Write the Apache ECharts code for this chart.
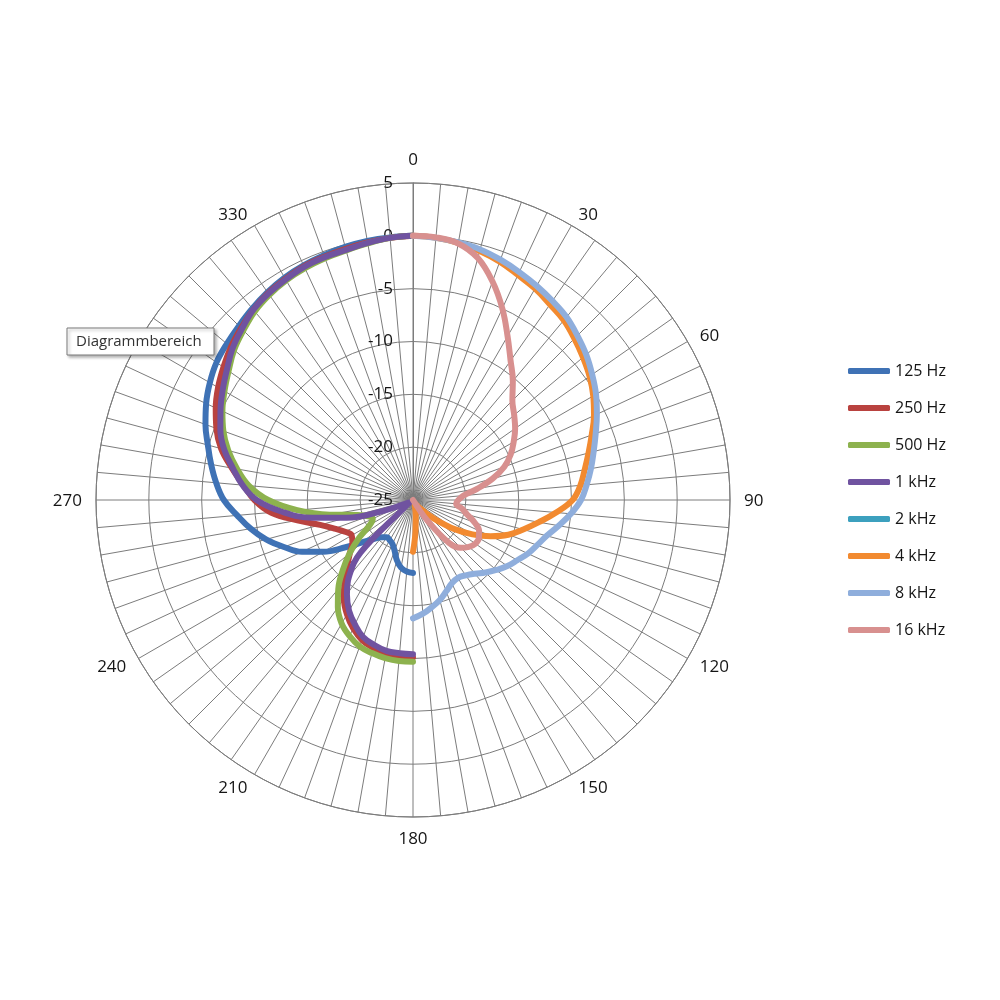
<!DOCTYPE html>
<html><head><meta charset="utf-8">
<script src="https://cdn.jsdelivr.net/npm/echarts@6/dist/echarts.min.js"></script>
<style>html,body{margin:0;padding:0;background:#fff}#c{width:1000px;height:1000px}</style>
</head><body><div id="c"></div>
<script>
// Angles (degrees, clockwise from top)
const anglesRight = [0,5,10,15,20,25,30,35,40,45,50,55,60,65,70,75,80,85,90,95,100,105,110,115,120,125,130,135,140,145,150,155,160,165,170,175,180];
const anglesLeft = [180,185,190,195,200,205,210,215,220,225,230,235,240,245,250,255,260,265,270,275,280,285,290,295,300,305,310,315,320,325,330,335,340,345,350,355,360];

const seriesNames = ['125 Hz','250 Hz','500 Hz','1 kHz','2 kHz','4 kHz','8 kHz','16 kHz'];
const seriesColors = ['#3F72B5','#B9423F','#8DB24E','#7053A0','#3CA0BE','#F28A30','#8FAEDC','#D8908F'];

// Left half (180..360), dB
const v125 = [-18.1,-18.2,-18.5,-19.1,-19.9,-20.4,-20.6,-20.7,-20.4,-19.8,-18.8,-17.2,-15.2,-13.4,-12.0,-10.6,-9.4,-8.3,-7.1,-6.3,-5.6,-4.9,-4.1,-3.4,-2.8,-2.3,-2.0,-1.7,-1.35,-1.0,-0.7,-0.5,-0.35,-0.2,-0.1,-0.05,0];
const v250 = [-10.1,-10.15,-10.2,-10.5,-10.9,-11.6,-12.5,-13.6,-14.9,-16.2,-17.2,-18.0,-18.3,-17.9,-17.1,-15.9,-13.9,-11.5,-10.0,-8.9,-7.6,-6.2,-5.2,-4.4,-3.7,-3.1,-2.5,-2.0,-1.5,-1.1,-0.85,-0.6,-0.5,-0.4,-0.25,-0.1,0];
const v500 = [-9.7,-9.7,-9.8,-10.0,-10.25,-10.8,-11.5,-12.6,-14.0,-15.6,-17.2,-18.8,-20.3,-20.8,-20.5,-19.5,-17.0,-14.0,-11.3,-9.4,-8.1,-6.9,-5.9,-5.1,-4.4,-3.7,-2.9,-2.3,-1.7,-1.3,-1.0,-0.8,-0.65,-0.55,-0.35,-0.1,0];
const v1k = [-10.4,-10.45,-10.5,-10.8,-11.2,-12.0,-12.9,-14.1,-15.6,-18.0,-24.3,-24.6,-24.5,-24.0,-22.0,-18.5,-15.3,-12.5,-10.2,-8.8,-7.7,-6.5,-5.6,-4.9,-4.2,-3.5,-2.7,-2.1,-1.5,-1.15,-0.9,-0.65,-0.55,-0.5,-0.3,-0.1,0];
const v2k = [];
// Right half (0..180), dB
const v4k = [0,-0.1,-0.3,-0.6,-1.0,-1.5,-1.9,-2.4,-2.8,-3.4,-4.0,-4.6,-5.3,-6.1,-7.0,-7.8,-8.5,-9.1,-9.9,-11.4,-12.9,-14.2,-15.4,-16.9,-18.5,-20.2,-21.9,-23.2,-24.0,-24.4,-24.6,-24.6,-24.5,-24.2,-23.5,-22.2,-20.1];
const v8k = [0,-0.1,-0.25,-0.45,-0.8,-1.2,-1.6,-2.0,-2.4,-3.0,-3.6,-4.3,-5.0,-5.8,-6.6,-7.3,-7.9,-8.5,-9.1,-10.0,-11.0,-11.9,-12.5,-13.0,-13.6,-14.1,-14.7,-15.3,-15.9,-16.3,-16.5,-16.3,-15.8,-15.2,-14.7,-14.2,-13.8];
const v16k = [0,-0.05,-0.35,-1.3,-3.0,-5.0,-7.1,-8.9,-10.3,-11.7,-12.5,-13.2,-14.0,-14.8,-15.8,-17.2,-18.8,-20.2,-20.7,-20.9,-20.3,-19.7,-18.8,-18.1,-17.8,-17.8,-18.1,-18.6,-19.7,-22.6,-25,-25,-25,-25,-25,-25,-25];

const angleLabelTicks = [0,30,60,90,120,150,180,210,240,270,300,330];
const radiusMin = -25, radiusMax = 5, radiusStep = 5;
const angleLabelRadius = 6.33; // radius value where the angle labels are anchored (just outside the outer ring)

const seriesValues = [v125, v250, v500, v1k, v2k, v4k, v8k, v16k];
const seriesAngles = [anglesLeft, anglesLeft, anglesLeft, anglesLeft, anglesLeft, anglesRight, anglesRight, anglesRight];

const FONT = '"Open Sans", "Segoe UI", sans-serif';
const GRID = '#7c7c7c';
const TEXT = '#151515';

const chart = echarts.init(document.getElementById('c'), null, {renderer: 'canvas'});
chart.setOption({
  backgroundColor: '#fff',
  animation: false,
  color: seriesColors,
  polar: { center: [413, 500], radius: 317 },
  angleAxis: {
    type: 'value', min: 0, max: 360, interval: 5, startAngle: 90, clockwise: true,
    axisLine: { lineStyle: { color: GRID, width: 1 } },
    axisTick: { show: false },
    splitLine: { show: true, lineStyle: { color: GRID, width: 1 } },
    axisLabel: { show: false }
  },
  radiusAxis: {
    type: 'value', min: radiusMin, max: radiusMax, interval: radiusStep,
    axisLine: { show: true, lineStyle: { color: GRID, width: 1 } },
    axisTick: { show: false },
    splitLine: { show: true, lineStyle: { color: GRID, width: 1 } },
    axisLabel: { margin: 20, fontSize: 17, color: TEXT, fontFamily: FONT }
  },
  legend: {
    orient: 'vertical', left: 843, top: 358, itemGap: 21,
    itemWidth: 42, itemHeight: 6, icon: 'roundRect',
    textStyle: { fontSize: 16, color: TEXT, fontFamily: FONT },
    data: seriesNames
  },
  series: seriesNames.map((name, i) => ({
    name, type: 'line', coordinateSystem: 'polar',
    smooth: 0.4, symbol: 'none',
    lineStyle: { width: 6, color: seriesColors[i], cap: 'round', join: 'round' },
    itemStyle: { color: seriesColors[i] },
    data: seriesValues[i].map((v, j) => [v, seriesAngles[i][j]])
  }))
});

// Angle labels anchored just outside the ring, positioned through the polar coordinate system
const angleLabelGraphics = angleLabelTicks.map(a => {
  const p = chart.convertToPixel({ polarIndex: 0 }, [angleLabelRadius, a]);
  const s = Math.sin(a * Math.PI / 180);
  const align = s > 0.01 ? 'left' : (s < -0.01 ? 'right' : 'center');
  const vAlign = a === 0 ? 'bottom' : (a === 180 ? 'top' : 'middle');
  return {
    type: 'text', x: p[0], y: p[1] + (vAlign === 'middle' ? 1.5 : 0), z: 50,
    style: { text: String(a), align, verticalAlign: vAlign, fontSize: 17, fontFamily: FONT, fill: TEXT }
  };
});

chart.setOption({
  graphic: angleLabelGraphics.concat([
    { type: 'rect', z: 100, shape: { x: 67, y: 328, width: 147, height: 27 },
      style: { fill: '#fff', stroke: '#7a7a7a', lineWidth: 1, shadowBlur: 3, shadowOffsetX: 2, shadowOffsetY: 2, shadowColor: 'rgba(0,0,0,0.3)' } },
    { type: 'text', z: 101, x: 76, y: 342,
      style: { text: 'Diagrammbereich', fill: '#333', fontSize: 15, fontFamily: FONT, verticalAlign: 'middle' } }
  ])
});
</script></body></html>
